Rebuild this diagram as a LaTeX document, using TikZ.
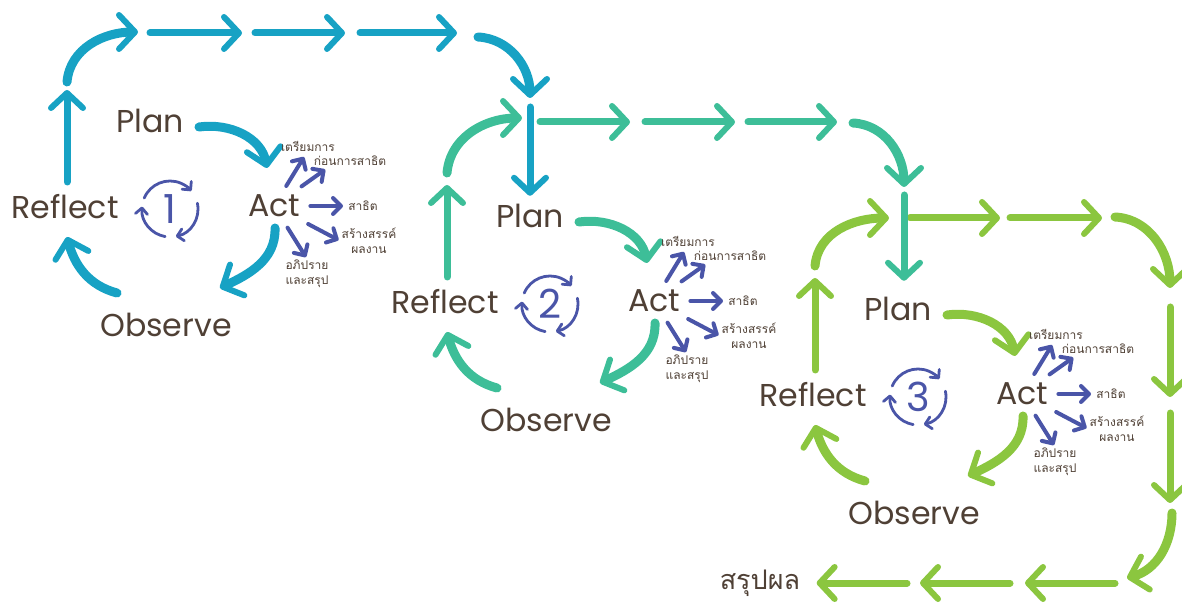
\documentclass[tikz,border=0pt]{standalone}
\usepackage{fontspec}
\setmainfont{Poppins}
\newfontfamily\thaifont[Script=Thai]{Loma}
\usetikzlibrary{arrows.meta}
\definecolor{cyc_blue}{RGB}{23,162,196}
\definecolor{cyc_teal}{RGB}{61,190,152}
\definecolor{cyc_green}{RGB}{139,198,63}
\definecolor{act_purple}{RGB}{74,85,168}
\definecolor{txt_brown}{RGB}{79,64,53}

\begin{document}
\begin{tikzpicture}[x=0.5pt, y=0.5pt,
    stage/.style={text=txt_brown, inner sep=0pt, font=\fontsize{15.8}{18}\selectfont},
    sublabel/.style={text=txt_brown, inner sep=0.5pt, align=center,
      font=\thaifont\fontsize{6}{7.4}\selectfont},
    turn/.style={line width=4.5pt, line cap=round,
      -{Straight Barb[length=8pt, width=17pt, line width=3pt, round]}},
    leg/.style={line width=3.5pt, line cap=round,
      -{Straight Barb[length=7.5pt, width=16pt, line width=3pt, round]}},
    subarrow/.style={act_purple, line width=2pt, line cap=round,
      -{Straight Barb[length=4pt, width=8pt, round]}},
    spin/.style={act_purple, line width=1.4pt, line cap=round,
      -{Straight Barb[length=3pt, width=6pt, round]}}]
  \useasboundingbox (0,0) rectangle (1182,-603);

  % one Plan-Act-Observe-Reflect cycle per colour
  \foreach \n/\dx/\dy/\col in {1/0/0/cyc_blue, 2/380/-95/cyc_teal, 3/748/-188/cyc_green}{
    \begin{scope}[shift={(\dx,\dy)}]
      \node[stage] (plan\n) at (150,-121) {Plan};
      \node[stage] (act\n) at (274,-206) {Act};
      \node[stage] (obs\n) at (166,-325) {Observe};
      \node[stage] (refl\n) at (65,-207) {Reflect};
      \node[text=act_purple, inner sep=0pt, font=\fontsize{20}{22}\selectfont] (num\n) at (170,-209) {\n};
      \coordinate (up\n) at (67,-90);
      % cycle arrows
      \draw[turn, draw=\col] ([shift={(49,-6)}]plan\n.center) to[out=8, in=100] ([shift={(-7,38)}]act\n.center);
      \draw[turn, draw=\col] ([shift={(1,-22)}]act\n.center) to[out=-88, in=25] ([shift={(54,37)}]obs\n.center);
      \draw[turn, draw=\col] ([shift={(-49,32)}]obs\n.center) to[out=165, in=-75] ([shift={(2,-30)}]refl\n.center);
      \draw[leg, draw=\col] ([shift={(2,25)}]refl\n.center) -- (up\n);
      % round arrows
      \draw[spin] ([shift={(157:28)}]num\n.center) arc[start angle=157, end angle=40, radius=28];
      \draw[spin] ([shift={(12:28)}]num\n.center) arc[start angle=12, end angle=-78, radius=28];
      \draw[spin] ([shift={(-100:28)}]num\n.center) arc[start angle=-100, end angle=-185, radius=28];
      % what happens in Act
      \node[sublabel] (prep\n) at (308,-146) {เตรียมการ};
      \node[sublabel] (before\n) at (350,-161) {ก่อนการสาธิต};
      \node[sublabel] (demo\n) at (363,-206) {สาธิต};
      \node[sublabel] (create\n) at (369,-241) {สร้างสรรค์\\ผลงาน};
      \node[sublabel] (discuss\n) at (307,-274) {อภิปราย\\และสรุป};
      \draw[subarrow, shorten <=5pt] (act\n) -- ([shift={(-4,-11)}]prep\n.center);
      \draw[subarrow, shorten <=7pt, shorten >=2pt] (act\n) -- ([xshift=8pt]before\n.south west);
      \draw[subarrow, shorten <=5pt, shorten >=2pt] (act\n) -- (demo\n);
      \draw[subarrow, shorten <=7pt, shorten >=1pt] (act\n) -- (create\n.west);
      \draw[subarrow, shorten <=6pt, shorten >=1pt] (act\n) -- (discuss\n.north);
    \end{scope}
  }

  % end of it all
  \node[text=txt_brown, inner sep=0pt, font=\thaifont\fontsize{13.5}{15}\selectfont] (result) at (760,-583) {สรุปผล};

  % green loop: cycle 3 to the result
  \draw[turn, cyc_green] ([yshift=6pt]up3) to[out=85, in=180] (889,-218);
  \foreach \xa/\xb in {910/1000, 1010/1102}
    \draw[leg, cyc_green] (\xa,-218) -- (\xb,-218);
  \draw[turn, cyc_green] (1115,-217) to[out=-3, in=90] (1170,-288);
  \foreach \ya/\yb in {307/397, 413/503}
    \draw[leg, cyc_green] (1170,-\ya) -- (1170,-\yb);
  \draw[turn, cyc_green] (1172,-513) to[out=-90, in=15] (1127,-578);
  \foreach \xa/\xb in {1115/1025, 1010/920}
    \draw[leg, cyc_green] (\xa,-583) -- (\xb,-583);
  \draw[leg, cyc_green, shorten >=8pt] (907,-583) -- (result.east);

  % teal loop: cycle 2 to cycle 3
  \draw[turn, cyc_teal] ([yshift=6pt]up2) to[out=85, in=180] (522,-118);
  \foreach \xa/\xb in {540/630, 645/735, 748/837}
    \draw[leg, cyc_teal] (\xa,-122) -- (\xb,-122);
  \draw[turn, cyc_teal] (853,-123) to[out=-3, in=90] (904,-187);
  \draw[leg, cyc_teal, shorten >=8pt] (904,-195) -- ([xshift=3pt]plan3.north);

  % blue loop: cycle 1 to cycle 2
  \draw[turn, cyc_blue] ([yshift=4pt]up1) to[out=85, in=180] (138,-32);
  \foreach \xa/\xb in {150/242, 255/345, 360/457}
    \draw[leg, cyc_blue] (\xa,-33) -- (\xb,-33);
  \draw[turn, cyc_blue] (478,-37) to[out=-3, in=90] (530,-98);
  \draw[leg, cyc_blue, shorten >=4pt] (530,-107) -- (plan2.north);
\end{tikzpicture}
\end{document}
